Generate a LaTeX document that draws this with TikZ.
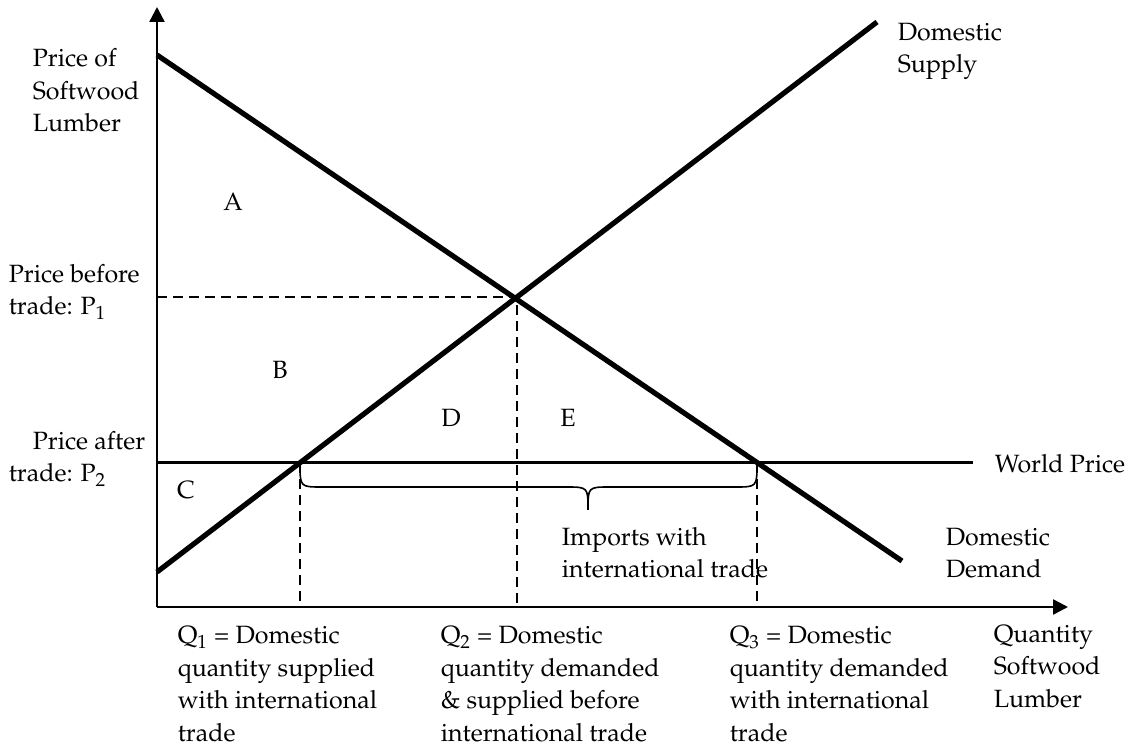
\documentclass[tikz,border=0pt]{standalone}
\usepackage[T1]{fontenc}
\usepackage{mathpazo}
\usepackage{tikz}
\usetikzlibrary{arrows.meta}

\begin{document}
\begin{tikzpicture}[x=0.5pt, y=-0.5pt, thick]
		\useasboundingbox (0,0) rectangle (1139,747);
		\coordinate (o) at (157,607);
		\coordinate (ytop) at (157,7);
		\coordinate (xend) at (1068,607);
		\coordinate (p1) at (157,297);
		\coordinate (p2) at (157,463);
		\coordinate (eq) at (517,297);
		\coordinate (s1) at (300,463);
		\coordinate (d3) at (757,463);
		\coordinate (q1) at (300,607);
		\coordinate (q2) at (517,607);
		\coordinate (q3) at (757,607);
		\begin{scope}[line width=1.2pt, -{Triangle[length=7.5pt,width=7.5pt]}]
			\draw (o) -- (ytop);
			\draw (o) -- (xend);
		\end{scope}
		\begin{scope}[line width=0.8pt, dash pattern=on 5pt off 3pt]
			\draw (p1) -- (eq) -- (q2);
			\draw (s1) -- (q1);
			\draw (d3) -- (q3);
		\end{scope}
		\draw[line width=1.5pt] (p2) -- (973,463);
		\begin{scope}[line width=2.6pt]
			\draw (157,55) -- (902,561);
			\draw (157,572) -- (877,22);
		\end{scope}
		\draw[line width=0.8pt] (s1) .. controls (300,487) .. (322,487) -- (566,487)
			.. controls (588,487) .. (588,510) .. controls (588,487) .. (610,487)
			-- (735,487) .. controls (757,487) .. (d3);
		\begin{scope}[every node/.style={font=\fontsize{12.5}{16.25}\selectfont, inner sep=0pt}]
			\node (a) at (233,202) {A};
			\node (b) at (280,370) {B};
			\node (c) at (186,490) {C};
			\node (d) at (451,418) {D};
			\node (e) at (568,418) {E};
		\end{scope}
		\begin{scope}[every node/.style={font=\fontsize{12.5}{16.25}\selectfont, inner sep=0pt, anchor=base west, align=left}]
			\node (ylab) at (32,132) {Price of\\Softwood\\Lumber};
			\node (p1lab) at (8,315) {Price before\\trade: P\textsubscript{1}};
			\node (p2lab) at (8,482) {\hspace*{12pt}Price after\\trade: P\textsubscript{2}};
			\node (supply) at (897,73) {Domestic\\Supply};
			\node (demand) at (945,578) {Domestic\\Demand};
			\node (world) at (994,473) {World Price};
			\node (imports) at (561,578) {Imports with\\international trade};
			\node (q1lab) at (177,741) {Q\textsubscript{1} = Domestic\\quantity supplied\\with international\\trade};
			\node (q2lab) at (440,741) {Q\textsubscript{2} = Domestic\\quantity demanded\\\& supplied before\\international trade};
			\node (q3lab) at (729,741) {Q\textsubscript{3} = Domestic\\quantity demanded\\with international\\trade};
			\node (xlab) at (993,707) {Quantity\\Softwood\\Lumber};
		\end{scope}
	\end{tikzpicture}
\end{document}
